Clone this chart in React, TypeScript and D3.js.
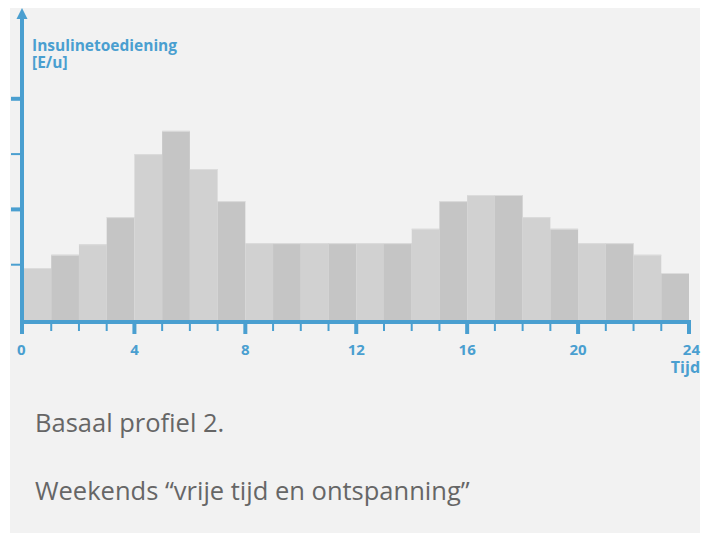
import * as d3 from "d3"

const hours = d3.range(24)
const rates = [0.94, 1.18, 1.37, 1.86, 3.0, 3.42, 2.73, 2.15, 1.39, 1.39, 1.39, 1.39, 1.39, 1.39, 1.65, 2.15, 2.26, 2.26, 1.86, 1.65, 1.39, 1.39, 1.18, 0.85]
const xTicks = [0, 4, 8, 12, 16, 20, 24]
const yTicks = [1, 2, 3, 4]

const BLUE = "#4a9fd0"
const FONT = "'Open Sans', sans-serif"

export default function App() {
  const W = 712
  const H = 534
  const x = d3.scaleLinear().domain([0, 24]).range([23.5, 689])
  const y = d3.scaleLinear().domain([0, 1]).range([320, 264.7])
  const baseY = 322

  return (
    <svg width={W} height={H} style={{ position: "absolute", left: 0, top: 0 }}>
      <rect x={10} y={8} width={690} height={525} fill="#f2f2f2" />

      {/* bars */}
      {hours.map((h, i) => (
        <g key={h}>
          <rect
            x={i === 0 ? 24 : x(h)}
            y={y(rates[i])}
            width={x(h + 1) - (i === 0 ? 24 : x(h))}
            height={y(0) - y(rates[i])}
            fill={i % 2 === 0 ? "#d1d1d1" : "#c5c5c5"}
          />
          <line x1={x(h)} x2={x(h + 1)} y1={y(rates[i]) + 0.5} y2={y(rates[i]) + 0.5} stroke="#dcdcdc" strokeWidth={1} />
        </g>
      ))}

      {/* y axis */}
      <line x1={22} x2={22} y1={16} y2={333} stroke={BLUE} strokeWidth={4} />
      <path d="M22,8 L16.5,19 L27.5,19 Z" fill={BLUE} />
      {yTicks.map((t, i) => (
        <line key={t} x1={11} x2={22} y1={y(t)} y2={y(t)} stroke={BLUE} strokeWidth={i % 2 === 0 ? 2 : 4} />
      ))}
      <text x={32} y={51} fill={BLUE} fontFamily={FONT} fontWeight="bold" fontSize={15.5}>Insulinetoediening</text>
      <text x={32} y={68} fill={BLUE} fontFamily={FONT} fontWeight="bold" fontSize={15.5}>[E/u]</text>

      {/* x axis */}
      <line x1={20} x2={691} y1={baseY} y2={baseY} stroke={BLUE} strokeWidth={4} />
      {d3.range(25).map((h) => {
        const major = h % 4 === 0
        return (
          <line key={h} x1={h === 0 ? 22 : x(h)} x2={h === 0 ? 22 : x(h)} y1={baseY} y2={major ? 334 : 331} stroke={BLUE} strokeWidth={major ? 4 : 2} />
        )
      })}
      {xTicks.map((t) => (
        <text key={t} x={t === 0 ? 22 : x(t)} y={355} fill={BLUE} fontFamily={FONT} fontWeight="bold" fontSize={15} textAnchor={t === 24 ? "end" : t === 0 ? "start" : "middle"} dx={t === 24 ? 11 : t === 0 ? -5 : 0}>{t}</text>
      ))}
      <text x={700} y={373} fill={BLUE} fontFamily={FONT} fontWeight="bold" fontSize={16} textAnchor="end">Tijd</text>

      {/* caption */}
      <text x={35} y={432} fill="#666" fontFamily={FONT} fontSize={25.5}>Basaal profiel 2.</text>
      <text x={35} y={500} fill="#666" fontFamily={FONT} fontSize={25.5}>Weekends “vrije tijd en ontspanning”</text>
    </svg>
  )
}
